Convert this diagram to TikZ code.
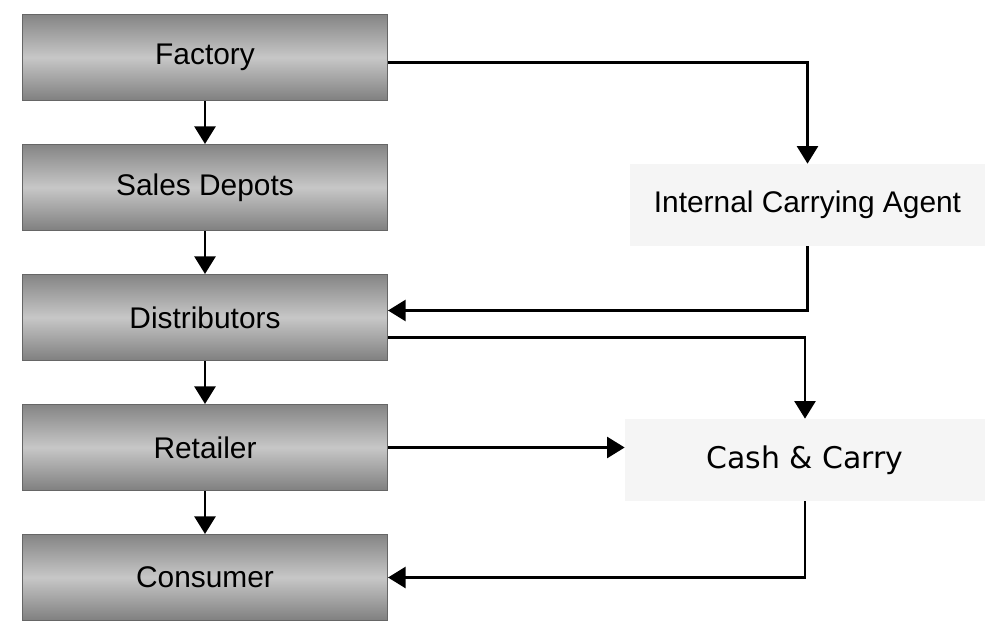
\documentclass[tikz,border=0pt]{standalone}
\usepackage{fontspec}
\setmainfont{Liberation Sans}
\newfontfamily\verdanalike{DejaVu Sans}
\usetikzlibrary{arrows.meta}

\begin{document}
\begin{tikzpicture}[node distance=2.6cm,
		chainbox/.style={rectangle, draw=black!60, line width=0.6pt, top color=black!48, bottom color=black!50, middle color=black!22, minimum width=7.3cm, minimum height=1.72cm, font=\fontsize{17}{20}\selectfont},
		sidebox/.style={rectangle, fill=black!4, minimum width=7.1cm, minimum height=1.64cm, font=\fontsize{17}{20}\selectfont},
		flow/.style={-{Triangle[width=12pt,length=10pt]}, line width=1.3pt}]
		\useasboundingbox (0,0) rectangle (19.78,-12.42);

		% Main chain
		\node (factory) [chainbox] at (4.1,-1.15) {Factory};
		\node (depots) [chainbox, below of=factory] {Sales Depots};
		\node (distrib) [chainbox, below of=depots] {Distributors};
		\node (retailer) [chainbox, below of=distrib] {Retailer};
		\node (consumer) [chainbox, below of=retailer] {Consumer};

		% Side channels
		\node (agent) [sidebox] at (16.15,-4.1) {Internal Carrying Agent};
		\node (cashcarry) [sidebox, minimum width=7.2cm, font={\verdanalike\fontsize{17}{20}\selectfont}] at (16.1,-9.2) {Cash \& Carry};

		% Arrows down the chain
		\draw[flow] (factory) -- (depots);
		\draw[flow] (depots) -- (distrib);
		\draw[flow] (distrib) -- (retailer);
		\draw[flow] (retailer) -- (consumer);

		% Arrows through the side channels
		\draw[flow] ([yshift=-0.1cm]factory.east) -| (agent.north);
		\draw[flow] (agent.south) |- ([yshift=0.14cm]distrib.east);
		\draw[flow] ([yshift=-0.4cm]distrib.east) -| (cashcarry.north);
		\draw[flow] (retailer.east) -- (retailer.east -| cashcarry.west);
		\draw[flow] (cashcarry.south) |- (consumer.east);
	\end{tikzpicture}
\end{document}
